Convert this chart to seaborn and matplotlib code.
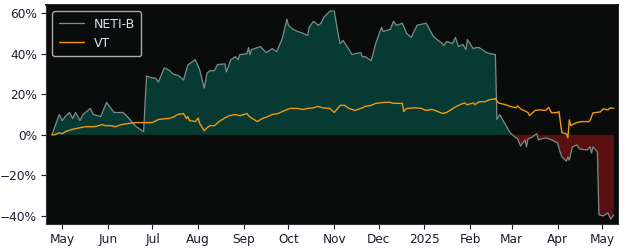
import matplotlib
matplotlib.use("Agg")
import matplotlib.pyplot as plt
import matplotlib.dates as mdates
import matplotlib.ticker as mticker
import numpy as np
import pandas as pd
import seaborn as sns

# ---------------- data ----------------
neti_dates = [
    "2024-04-24", "2024-04-29", "2024-05-01", "2024-05-03", "2024-05-06", "2024-05-08",
    "2024-05-10", "2024-05-13", "2024-05-15", "2024-05-20", "2024-05-22", "2024-05-27",
    "2024-05-31", "2024-06-03", "2024-06-05", "2024-06-11", "2024-06-14", "2024-06-20",
    "2024-06-25", "2024-06-27", "2024-07-01", "2024-07-03", "2024-07-05", "2024-07-09",
    "2024-07-12", "2024-07-15", "2024-07-19", "2024-07-22", "2024-07-25", "2024-07-26",
    "2024-07-30", "2024-08-02", "2024-08-05", "2024-08-07", "2024-08-09", "2024-08-12",
    "2024-08-14", "2024-08-19", "2024-08-20", "2024-08-23", "2024-08-26", "2024-08-28",
    "2024-08-29", "2024-09-03", "2024-09-04", "2024-09-05", "2024-09-06", "2024-09-12",
    "2024-09-16", "2024-09-20", "2024-09-23", "2024-09-26", "2024-09-27", "2024-09-30",
    "2024-10-01", "2024-10-04", "2024-10-07", "2024-10-11", "2024-10-14", "2024-10-15",
    "2024-10-18", "2024-10-21", "2024-10-23", "2024-10-25", "2024-10-29", "2024-11-01",
    "2024-11-04", "2024-11-05", "2024-11-07", "2024-11-11", "2024-11-13", "2024-11-15",
    "2024-11-19", "2024-11-20", "2024-11-22", "2024-11-26", "2024-11-29", "2024-12-03",
    "2024-12-04", "2024-12-09", "2024-12-11", "2024-12-13", "2024-12-17", "2024-12-20",
    "2024-12-23", "2024-12-27", "2025-01-02", "2025-01-03", "2025-01-07", "2025-01-13",
    "2025-01-14", "2025-01-16", "2025-01-20", "2025-01-22", "2025-01-24", "2025-01-27",
    "2025-01-29", "2025-01-30", "2025-02-03", "2025-02-05", "2025-02-07", "2025-02-12",
    "2025-02-18", "2025-02-19", "2025-02-21", "2025-02-24", "2025-02-28", "2025-03-03",
    "2025-03-05", "2025-03-07", "2025-03-10", "2025-03-11", "2025-03-12", "2025-03-14",
    "2025-03-18", "2025-03-19", "2025-03-24", "2025-03-28", "2025-04-01", "2025-04-03",
    "2025-04-04", "2025-04-07", "2025-04-08", "2025-04-09", "2025-04-11", "2025-04-14",
    "2025-04-16", "2025-04-21", "2025-04-23", "2025-04-24", "2025-04-25", "2025-04-28",
    "2025-04-29", "2025-05-02", "2025-05-05", "2025-05-07", "2025-05-09",
]
neti_values = [
    0, 10, 7, 9, 11, 8,
    11, 7, 10, 13, 10, 9,
    16, 13, 11, 11, 9, 4,
    1.5, 29, 28, 28, 26, 33,
    32, 30, 29, 27, 34.5, 35,
    37, 32, 23, 30.5, 31.6, 31.6,
    34.6, 35, 31, 37, 38.5, 37,
    39.5, 40, 43, 39.5, 42, 43.5,
    40.5, 42.5, 41, 46, 48, 57,
    54, 52, 51, 50, 49, 53,
    56, 54, 55, 58, 61, 61,
    48, 45, 46.5, 42, 39.5, 40,
    40.5, 38.5, 38.5, 36.5, 45, 53,
    51, 52, 56, 54, 55, 50,
    48, 54, 55, 54, 48.5, 45,
    44, 46, 45, 48, 43.5, 44.5,
    42, 47, 42.5, 43, 43, 40.5,
    39.5, 7.5, 10, 6, 1, -1,
    -2, -5.5, -2.5, -6, -2, -1.5,
    0.5, -2.5, -1.5, -2.5, -4, -9,
    -11, -13, -11, -12.5, -6, -5,
    -7, -7.5, -6, -9, -6, -8.5,
    -39.5, -40, -38.5, -41.5, -39.5,
]

vt_dates = [
    "2024-04-24", "2024-04-26", "2024-04-29", "2024-05-01", "2024-05-03", "2024-05-07",
    "2024-05-13", "2024-05-17", "2024-05-23", "2024-05-28", "2024-05-30", "2024-06-03",
    "2024-06-06", "2024-06-10", "2024-06-14", "2024-06-20", "2024-06-26", "2024-07-01",
    "2024-07-05", "2024-07-10", "2024-07-12", "2024-07-16", "2024-07-18", "2024-07-22",
    "2024-07-24", "2024-07-25", "2024-07-26", "2024-07-30", "2024-08-01", "2024-08-02",
    "2024-08-05", "2024-08-07", "2024-08-09", "2024-08-12", "2024-08-15", "2024-08-19",
    "2024-08-22", "2024-08-26", "2024-08-29", "2024-09-03", "2024-09-04", "2024-09-06",
    "2024-09-10", "2024-09-13", "2024-09-17", "2024-09-20", "2024-09-24", "2024-09-27",
    "2024-10-02", "2024-10-07", "2024-10-11", "2024-10-14", "2024-10-18", "2024-10-21",
    "2024-10-24", "2024-10-29", "2024-11-01", "2024-11-05", "2024-11-08", "2024-11-11",
    "2024-11-15", "2024-11-20", "2024-11-22", "2024-11-26", "2024-11-29", "2024-12-05",
    "2024-12-09", "2024-12-11", "2024-12-17", "2024-12-18", "2024-12-20", "2024-12-26",
    "2024-12-30", "2025-01-02", "2025-01-06", "2025-01-10", "2025-01-13", "2025-01-16",
    "2025-01-21", "2025-01-24", "2025-01-28", "2025-01-30", "2025-02-03", "2025-02-04",
    "2025-02-07", "2025-02-11", "2025-02-14", "2025-02-18", "2025-02-20", "2025-02-25",
    "2025-02-28", "2025-03-04", "2025-03-05", "2025-03-07", "2025-03-12", "2025-03-13",
    "2025-03-17", "2025-03-20", "2025-03-24", "2025-03-26", "2025-03-28", "2025-04-01",
    "2025-04-02", "2025-04-03", "2025-04-04", "2025-04-07", "2025-04-08", "2025-04-09",
    "2025-04-10", "2025-04-11", "2025-04-14", "2025-04-17", "2025-04-22", "2025-04-23",
    "2025-04-25", "2025-04-30", "2025-05-02", "2025-05-05", "2025-05-07", "2025-05-09",
]
vt_values = [
    0, 0, 1, 0.5, 1.5, 2.5,
    3.5, 4, 4, 5, 4.5, 4.5,
    4, 5, 5.5, 6, 6, 6,
    7.5, 8, 8, 9, 10, 10.5,
    8, 9, 7, 6.5, 8.3, 5.5,
    2, 3.5, 4.5, 4.5, 6.5, 8.3,
    9.4, 10, 9.4, 10.5, 9.4, 8.3,
    6.5, 7.9, 9, 10, 10.5, 11.5,
    13, 13, 12.5, 13, 13.3, 14,
    13.3, 13, 11, 14.5, 14.5, 13,
    12, 13.3, 14, 14.5, 15.5, 16,
    16, 15.5, 15.5, 11.5, 13, 13.3,
    13, 12, 12.5, 11.5, 10.5, 11,
    13.3, 14.5, 15.7, 14.8, 15.7, 14.8,
    16.3, 16.3, 17.3, 17.8, 15.7, 14.8,
    14, 13.3, 14.3, 12.8, 11, 9.5,
    12, 12.3, 12, 13.5, 10.8, 11,
    11.5, 6, 1, 0.5, -1.5, 7.4,
    4.5, 5, 6, 6.5, 6.5, 7,
    10.8, 11.3, 12.8, 12.3, 13.3, 13,
]

y_ticks = [-40, -20, 0, 20, 40, 60]
x_start, x_end = "2024-04-20", "2025-05-12"

# ---------------- style ----------------
bg = "#0a0c0b"
text_col = "#1c1c30"
sns.set_theme(style="dark", rc={
    "axes.facecolor": bg,
    "figure.facecolor": "white",
    "axes.edgecolor": bg,
    "xtick.color": text_col,
    "ytick.color": text_col,
    "xtick.bottom": True,
    "ytick.left": True,
    "axes.grid": False,
})
plt.rcParams["font.family"] = ["DejaVu Sans"]

neti = pd.DataFrame({"date": pd.to_datetime(neti_dates), "value": neti_values})
vt = pd.DataFrame({"date": pd.to_datetime(vt_dates), "value": vt_values})

fig = plt.figure(figsize=(6.25, 2.5), dpi=100)
ax = fig.add_axes([0.0736, 0.104, 0.9154, 0.876])

green = "#073a33"
red = "#5a1010"
neti_col = "#7d8c8a"
vt_col = "#f0980e"

ax.fill_between(neti["date"], neti["value"], 0, where=neti["value"] >= 0,
                interpolate=True, color=green, linewidth=0, zorder=1)
ax.fill_between(neti["date"], neti["value"], 0, where=neti["value"] <= 0,
                interpolate=True, color=red, linewidth=0, zorder=1)

sns.lineplot(data=neti, x="date", y="value", ax=ax, color=neti_col,
             linewidth=0.9, label="NETI-B", zorder=3)
sns.lineplot(data=vt, x="date", y="value", ax=ax, color=vt_col,
             linewidth=1.0, label="VT", zorder=4)

ax.set_xlim(pd.Timestamp(x_start), pd.Timestamp(x_end))
ax.set_ylim(-44, 64)
ax.set_yticks(y_ticks)
ax.yaxis.set_major_formatter(mticker.FuncFormatter(lambda v, p: f"{v:.0f}%".replace("-", "\u2212")))

ax.xaxis.set_major_locator(mdates.MonthLocator())
ax.xaxis.set_major_formatter(mticker.FuncFormatter(
    lambda v, p: mdates.num2date(v).strftime("%Y") if mdates.num2date(v).month == 1
    else mdates.num2date(v).strftime("%b")))

ax.tick_params(axis="both", labelsize=8.7, length=3.5, width=0.8, colors=text_col, pad=3)
ax.set_xlabel("")
ax.set_ylabel("")
for s in ["left", "bottom"]:
    ax.spines[s].set_color("#333333")
    ax.spines[s].set_linewidth(0.8)

leg = ax.legend(loc="upper left", fontsize=9, frameon=True, facecolor=bg,
                edgecolor="#aaaaaa", framealpha=1.0, borderpad=0.5, handlelength=2.0)
for t in leg.get_texts():
    t.set_color("#d8e4f0")

fig.savefig("out.png", dpi=100)
